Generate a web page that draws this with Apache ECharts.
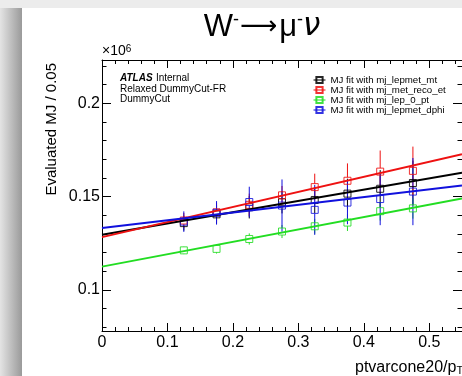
<!DOCTYPE html>
<html><head><meta charset="utf-8">
<script src="https://cdn.jsdelivr.net/npm/echarts@6/dist/echarts.min.js"></script>
<style>html,body{margin:0;padding:0;background:#fff}#c{width:462px;height:376px}</style>
</head><body><div id="c"></div>
<script>
// ---- data (values in units of 10^6) ----
const xBins = [0.125, 0.175, 0.225, 0.275, 0.325, 0.375, 0.425, 0.475];
const seriesNames = ['MJ fit with mj_lepmet_mt', 'MJ fit with mj_met_reco_et', 'MJ fit with mj_lep_0_pt', 'MJ fit with mj_lepmet_dphi'];
const mtVals   = [0.1358, 0.1405, 0.1443, 0.1470, 0.1482, 0.1516, 0.1542, 0.1573];
const mtErrs   = [0.004, 0.005, 0.006, 0.006, 0.007, 0.008, 0.010, 0.012];
const metVals  = [0.1372, 0.1416, 0.1456, 0.1507, 0.1551, 0.1585, 0.1634, 0.1638];
const metErrs  = [0.004, 0.005, 0.006, 0.005, 0.0072, 0.0093, 0.0113, 0.013];
const lepVals  = [0.1212, 0.1220, 0.1273, 0.1313, 0.1341, 0.1361, 0.1422, 0.1437];
const lepErrs  = [0.002, 0.0025, 0.003, 0.0035, 0.004, 0.0045, 0.005, 0.0055];
const dphiVals = [0.1366, 0.1413, 0.1471, 0.1452, 0.1429, 0.1468, 0.1487, 0.1527];
const dphiErrs = [0.0055, 0.0063, 0.0082, 0.014, 0.0134, 0.0116, 0.014, 0.018];
const fitX    = [0, 0.55];
const mtFit   = [0.1296, 0.1628];
const metFit  = [0.1283, 0.1727];
const lepFit  = [0.1125, 0.1490];
const dphiFit = [0.1332, 0.1559];
const xMajorTicks = [0, 0.1, 0.2, 0.3, 0.4, 0.5];
const xMinorTicks = [0.02,0.04,0.06,0.08,0.12,0.14,0.16,0.18,0.22,0.24,0.26,0.28,0.32,0.34,0.36,0.38,0.42,0.44,0.46,0.48,0.52,0.54];
const yMajorTicks = [0.1, 0.15, 0.2];
const yMinorTicks = [0.08,0.09,0.11,0.12,0.13,0.14,0.16,0.17,0.18,0.19,0.21,0.22];

const colors = ['#000000', '#ee1111', '#22dd22', '#1111dd'];
const valsList = [mtVals, metVals, lepVals, dphiVals];
const errsList = [mtErrs, metErrs, lepErrs, dphiErrs];
const fitList = [mtFit, metFit, lepFit, dphiFit];

const FONT = 'Liberation Sans, Arial, Helvetica, sans-serif';
const X_MIN = 0, X_MAX = 0.55, Y_MIN = 0.078, Y_MAX = 0.2232;
const fmt = v => String(Number(v.toFixed(3)));

function xAx(pos, vals, len, labels, line) {
  return {
    type: 'value', position: pos, min: X_MIN, max: X_MAX,
    axisLine: {show: line, onZero: false, lineStyle: {color: '#000', width: 1}},
    axisTick: {show: true, inside: true, length: len, customValues: vals, lineStyle: {color: '#000', width: 1}},
    axisLabel: labels ? {show: true, customValues: vals, formatter: fmt, margin: 4, fontSize: 16, fontFamily: FONT, color: '#000'} : {show: false},
    splitLine: {show: false}
  };
}
function yAx(pos, vals, len, labels, line) {
  return {
    type: 'value', position: pos, min: Y_MIN, max: Y_MAX,
    axisLine: {show: line, onZero: false, lineStyle: {color: '#000', width: 1}},
    axisTick: {show: true, inside: true, length: len, customValues: vals, lineStyle: {color: '#000', width: 1}},
    axisLabel: labels ? {show: true, customValues: vals, formatter: fmt, margin: 2, fontSize: 16, fontFamily: FONT, color: '#000'} : {show: false},
    splitLine: {show: false}
  };
}

function errRender(params, api) {
  const x = api.value(0), y = api.value(1), e = api.value(2);
  const pt = api.coord([x, y + e]), pc = api.coord([x, y]), pb = api.coord([x, y - e]);
  const col = api.visual('color');
  const gap = 3.5;
  const children = [];
  if (pc[1] - gap > pt[1]) children.push({type: 'line', shape: {x1: pt[0], y1: pt[1], x2: pc[0], y2: pc[1] - gap}, style: {stroke: col, lineWidth: 1}});
  if (pb[1] > pc[1] + gap) children.push({type: 'line', shape: {x1: pc[0], y1: pc[1] + gap, x2: pb[0], y2: pb[1]}, style: {stroke: col, lineWidth: 1}});
  return {type: 'group', children: children};
}

const series = [];
valsList.forEach((vals, i) => {
  series.push({
    type: 'custom', name: seriesNames[i] + ' err', renderItem: errRender,
    data: xBins.map((x, k) => [x, vals[k], errsList[i][k]]),
    itemStyle: {color: colors[i], opacity: 0.85}, z: 3, silent: true
  });
  series.push({
    type: 'line', name: seriesNames[i],
    data: xBins.map((x, k) => [x, vals[k]]),
    symbol: 'rect', symbolSize: 7, showSymbol: true,
    lineStyle: {width: 0, opacity: 0, color: colors[i]},
    itemStyle: {color: 'rgba(255,255,255,0)', borderColor: colors[i], borderWidth: 1, opacity: 0.85},
    z: 4, silent: true
  });
});
fitList.forEach((f, i) => {
  series.push({
    type: 'line', name: seriesNames[i] + ' fit',
    data: fitX.map((x, k) => [x, f[k]]),
    showSymbol: false, symbol: 'none',
    lineStyle: {width: 2, color: colors[i]}, itemStyle: {color: colors[i]},
    z: 5 + i, silent: true
  });
});

const chart = echarts.init(document.getElementById('c'), null, {renderer: 'canvas'});
chart.setOption({
  backgroundColor: '#ffffff',
  animation: false,
  grid: {left: 102, top: 60, width: 361, height: 271, containLabel: false},
  xAxis: [
    xAx('bottom', xMajorTicks, 8, true, true),
    xAx('bottom', xMinorTicks, 4, false, false),
    xAx('top', xMajorTicks, 8, false, true),
    xAx('top', xMinorTicks, 4, false, false)
  ],
  yAxis: [
    yAx('left', yMajorTicks, 9, true, true),
    yAx('left', yMinorTicks, 4.5, false, false),
    yAx('right', yMajorTicks, 9, false, true),
    yAx('right', yMinorTicks, 4.5, false, false)
  ],
  legend: {
    data: seriesNames, orient: 'vertical', left: 313, top: 75,
    itemWidth: 12, itemHeight: 7.8, itemGap: 0, padding: 0,
    textStyle: {fontSize: 9.7, fontFamily: FONT, color: '#000', lineHeight: 8},
    lineStyle: {width: 1, opacity: 1},
    selectedMode: false
  },
  series: series,
  graphic: [
    {type: 'rect', shape: {x: 0, y: 0, width: 462, height: 8}, style: {fill: '#ececec'}, z: -10, silent: true},
    {type: 'rect', shape: {x: 0, y: 8, width: 22, height: 368}, style: {fill: new echarts.graphic.LinearGradient(0, 0, 1, 0, [{offset: 0, color: '#e4e4e4'}, {offset: 1, color: '#9a9a9a'}])}, z: -10, silent: true},
    {type: 'text', x: 262, y: 27, style: {
      text: '{a|W}{s|-}{r|⟶}{a|μ}{s|-}{i|ν}', align: 'center', verticalAlign: 'middle',
      rich: {
        a: {fontSize: 31, fontFamily: FONT, fill: '#000'},
        r: {fontSize: 26, fontFamily: 'DejaVu Sans, sans-serif', fill: '#000', padding: [0, 2, 0, 1]},
        s: {fontSize: 18, fontFamily: FONT, fill: '#000', verticalAlign: 'top'},
        i: {fontSize: 31, fontFamily: 'DejaVu Sans, sans-serif', fontStyle: 'italic', fill: '#000'}
      }}, z: 10},
    {type: 'text', x: 102, y: 58, style: {
      text: '{b|×10}{s|6}', align: 'left', verticalAlign: 'bottom',
      rich: {b: {fontSize: 14, fontFamily: FONT, fill: '#000'}, s: {fontSize: 10, fontFamily: FONT, fill: '#000', verticalAlign: 'top'}}
    }, z: 10},
    {type: 'text', x: 52, y: 63, rotation: Math.PI / 2, style: {
      text: 'Evaluated MJ / 0.05', fontSize: 15, fontFamily: FONT, fill: '#000', align: 'right', verticalAlign: 'middle'
    }, z: 10},
    {type: 'text', x: 355, y: 368, style: {
      text: '{n|ptvarcone20/p}{t|T}', align: 'left', verticalAlign: 'middle',
      rich: {n: {fontSize: 16, fontFamily: FONT, fill: '#000'}, t: {fontSize: 11, fontFamily: FONT, fill: '#000', verticalAlign: 'bottom'}}
    }, z: 10},
    {type: 'text', x: 120, y: 78, style: {
      text: '{b|ATLAS} {n|Internal}', align: 'left', verticalAlign: 'middle',
      rich: {b: {fontSize: 10, fontFamily: FONT, fontWeight: 'bold', fontStyle: 'italic', fill: '#000'}, n: {fontSize: 10, fontFamily: FONT, fill: '#000'}}
    }, z: 10},
    {type: 'text', x: 120, y: 89, style: {text: 'Relaxed DummyCut-FR', fontSize: 10, fontFamily: FONT, fill: '#000', align: 'left', verticalAlign: 'middle'}, z: 10},
    {type: 'text', x: 120, y: 99.5, style: {text: 'DummyCut', fontSize: 10, fontFamily: FONT, fill: '#000', align: 'left', verticalAlign: 'middle'}, z: 10}
  ]
});
</script>
</body></html>
